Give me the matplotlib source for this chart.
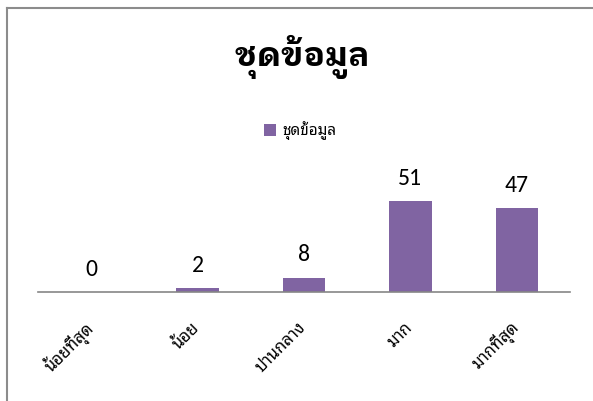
import numpy as np
import matplotlib.pyplot as plt
from matplotlib.lines import Line2D

plt.rcParams['font.family'] = ['Noto Sans Thai Looped', 'Loma', 'DejaVu Sans']

title = 'ชุดข้อมูล'
series_name = 'ชุดข้อมูล'
categories = ['น้อยที่สุด', 'น้อย', 'ปานกลาง', 'มาก', 'มากที่สุด']
values = [0, 2, 8, 51, 47]
bar_color = '#8064A2'
num_font = ['Carlito', 'Liberation Sans', 'DejaVu Sans']

fig = plt.figure(figsize=(5.93, 4.01), dpi=100)
# plot area: x 38..570 px, axis line at y=292 px
ax = fig.add_axes([38 / 593, 1 - 292 / 401, 532 / 593, 107 / 401])

x = np.arange(len(categories))
bars = ax.bar(x, values, width=0.4, color=bar_color, label=series_name, zorder=2)
ax.set_xlim(-0.5, len(categories) - 0.5)
ax.set_ylim(0, 60)

for b, v in zip(bars, values):
    ax.text(b.get_x() + b.get_width() / 2, v + 7, str(v), ha='center', va='bottom',
            fontsize=17, family=num_font, clip_on=False)

for s in ['top', 'right', 'left']:
    ax.spines[s].set_visible(False)
ax.spines['bottom'].set_color('#868686')
ax.spines['bottom'].set_linewidth(1.2)
ax.set_yticks([])
ax.set_xticks(x)
ax.set_xticklabels(categories, rotation=45, ha='right', va='center',
                   rotation_mode='anchor', fontsize=12)
ax.tick_params(axis='x', length=0, pad=24)

fig.text(302 / 593, 1 - 57 / 401, title, ha='center', va='center', fontsize=24,
         fontweight='bold', family=['IBM Plex Sans Thai Looped', 'Noto Sans Thai Looped', 'DejaVu Sans'])
fig.legend(loc='center', bbox_to_anchor=(300 / 593, 1 - 131 / 401), frameon=False,
           handlelength=0.8, handleheight=0.8, handletextpad=0.4, fontsize=11)

# outer chart frame (only top and left edges visible)
fig.add_artist(Line2D([6.5 / 593, 1], [1 - 7.5 / 401] * 2, color='#8c8c8c', lw=1.5))
fig.add_artist(Line2D([6.5 / 593] * 2, [0, 1 - 7.5 / 401], color='#8c8c8c', lw=1.5))

fig.savefig('out.png', dpi=100)
